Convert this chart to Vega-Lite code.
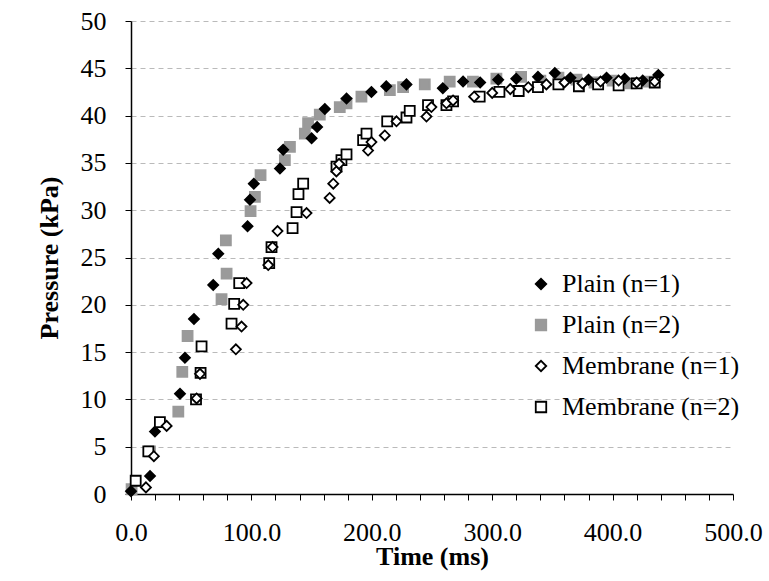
{
  "$schema": "https://vega.github.io/schema/vega-lite/v6.json",
  "width": 602,
  "height": 473,
  "autosize": {"type": "none"},
  "padding": {"left": 131, "top": 21, "right": 36, "bottom": 87},
  "background": "white",
  "config": {
    "view": {"stroke": null},
    "font": "Liberation Serif"
  },
  "data": {
    "values": [
      {"s": "Plain (n=1)", "t": 0, "p": 0.3},
      {"s": "Plain (n=1)", "t": 15.8, "p": 1.9},
      {"s": "Plain (n=1)", "t": 19.9, "p": 6.6},
      {"s": "Plain (n=1)", "t": 40.7, "p": 10.6},
      {"s": "Plain (n=1)", "t": 44.8, "p": 14.4},
      {"s": "Plain (n=1)", "t": 52.3, "p": 18.5},
      {"s": "Plain (n=1)", "t": 68.3, "p": 22.1},
      {"s": "Plain (n=1)", "t": 72.5, "p": 25.4},
      {"s": "Plain (n=1)", "t": 96.8, "p": 28.3},
      {"s": "Plain (n=1)", "t": 98.8, "p": 31.1},
      {"s": "Plain (n=1)", "t": 102, "p": 32.8},
      {"s": "Plain (n=1)", "t": 123.7, "p": 34.4},
      {"s": "Plain (n=1)", "t": 126.4, "p": 36.4},
      {"s": "Plain (n=1)", "t": 150, "p": 37.6},
      {"s": "Plain (n=1)", "t": 154.6, "p": 38.8},
      {"s": "Plain (n=1)", "t": 161, "p": 40.7},
      {"s": "Plain (n=1)", "t": 179, "p": 41.8},
      {"s": "Plain (n=1)", "t": 199.7, "p": 42.5},
      {"s": "Plain (n=1)", "t": 212, "p": 43.1},
      {"s": "Plain (n=1)", "t": 228.8, "p": 43.3},
      {"s": "Plain (n=1)", "t": 259, "p": 42.9},
      {"s": "Plain (n=1)", "t": 275.8, "p": 43.6},
      {"s": "Plain (n=1)", "t": 290, "p": 43.5},
      {"s": "Plain (n=1)", "t": 305, "p": 43.8},
      {"s": "Plain (n=1)", "t": 320, "p": 43.9},
      {"s": "Plain (n=1)", "t": 338, "p": 44.1},
      {"s": "Plain (n=1)", "t": 352, "p": 44.5},
      {"s": "Plain (n=1)", "t": 365, "p": 44.0},
      {"s": "Plain (n=1)", "t": 380, "p": 43.8},
      {"s": "Plain (n=1)", "t": 395, "p": 44.0},
      {"s": "Plain (n=1)", "t": 410, "p": 43.9},
      {"s": "Plain (n=1)", "t": 425, "p": 43.7},
      {"s": "Plain (n=1)", "t": 438, "p": 44.3},
      {"s": "Plain (n=2)", "t": 0.5, "p": 0.5},
      {"s": "Plain (n=2)", "t": 15.8, "p": 4.5},
      {"s": "Plain (n=2)", "t": 39.3, "p": 8.7},
      {"s": "Plain (n=2)", "t": 42.6, "p": 12.9},
      {"s": "Plain (n=2)", "t": 47, "p": 16.7},
      {"s": "Plain (n=2)", "t": 75.2, "p": 20.6},
      {"s": "Plain (n=2)", "t": 79.4, "p": 23.3},
      {"s": "Plain (n=2)", "t": 78.8, "p": 26.8},
      {"s": "Plain (n=2)", "t": 99.3, "p": 29.9},
      {"s": "Plain (n=2)", "t": 102.9, "p": 31.4},
      {"s": "Plain (n=2)", "t": 107.6, "p": 33.7},
      {"s": "Plain (n=2)", "t": 127.8, "p": 35.3},
      {"s": "Plain (n=2)", "t": 132, "p": 36.7},
      {"s": "Plain (n=2)", "t": 144.4, "p": 38.1},
      {"s": "Plain (n=2)", "t": 147.1, "p": 39.2},
      {"s": "Plain (n=2)", "t": 156.8, "p": 40.1},
      {"s": "Plain (n=2)", "t": 173.4, "p": 40.9},
      {"s": "Plain (n=2)", "t": 179, "p": 41.3},
      {"s": "Plain (n=2)", "t": 191.4, "p": 42.0},
      {"s": "Plain (n=2)", "t": 215, "p": 42.7},
      {"s": "Plain (n=2)", "t": 226, "p": 43.0},
      {"s": "Plain (n=2)", "t": 244, "p": 43.3},
      {"s": "Plain (n=2)", "t": 264.7, "p": 43.6},
      {"s": "Plain (n=2)", "t": 284, "p": 43.6},
      {"s": "Plain (n=2)", "t": 303.5, "p": 43.9},
      {"s": "Plain (n=2)", "t": 324, "p": 44.1},
      {"s": "Plain (n=2)", "t": 340, "p": 43.7},
      {"s": "Plain (n=2)", "t": 355, "p": 44.0},
      {"s": "Plain (n=2)", "t": 370, "p": 43.8},
      {"s": "Plain (n=2)", "t": 385, "p": 43.5},
      {"s": "Plain (n=2)", "t": 400, "p": 43.7},
      {"s": "Plain (n=2)", "t": 415, "p": 43.4},
      {"s": "Plain (n=2)", "t": 430, "p": 43.6},
      {"s": "Membrane (n=1)", "t": 12.4, "p": 0.7},
      {"s": "Membrane (n=1)", "t": 19, "p": 4.0},
      {"s": "Membrane (n=1)", "t": 29.6, "p": 7.2},
      {"s": "Membrane (n=1)", "t": 54.5, "p": 10.1},
      {"s": "Membrane (n=1)", "t": 57.3, "p": 12.7},
      {"s": "Membrane (n=1)", "t": 87.1, "p": 15.3},
      {"s": "Membrane (n=1)", "t": 91.8, "p": 17.7},
      {"s": "Membrane (n=1)", "t": 93.2, "p": 20.0},
      {"s": "Membrane (n=1)", "t": 96, "p": 22.3},
      {"s": "Membrane (n=1)", "t": 114, "p": 24.2},
      {"s": "Membrane (n=1)", "t": 117.6, "p": 26.1},
      {"s": "Membrane (n=1)", "t": 121.7, "p": 27.8},
      {"s": "Membrane (n=1)", "t": 145.8, "p": 29.7},
      {"s": "Membrane (n=1)", "t": 165, "p": 31.3},
      {"s": "Membrane (n=1)", "t": 168, "p": 32.8},
      {"s": "Membrane (n=1)", "t": 170.6, "p": 34.1},
      {"s": "Membrane (n=1)", "t": 172.8, "p": 34.9},
      {"s": "Membrane (n=1)", "t": 196.9, "p": 36.3},
      {"s": "Membrane (n=1)", "t": 199.7, "p": 37.2},
      {"s": "Membrane (n=1)", "t": 210.8, "p": 37.9},
      {"s": "Membrane (n=1)", "t": 220.5, "p": 39.4},
      {"s": "Membrane (n=1)", "t": 245.4, "p": 39.9},
      {"s": "Membrane (n=1)", "t": 249.5, "p": 40.9},
      {"s": "Membrane (n=1)", "t": 262, "p": 41.3},
      {"s": "Membrane (n=1)", "t": 267.5, "p": 41.6},
      {"s": "Membrane (n=1)", "t": 285, "p": 42.0},
      {"s": "Membrane (n=1)", "t": 300, "p": 42.4},
      {"s": "Membrane (n=1)", "t": 315, "p": 42.8},
      {"s": "Membrane (n=1)", "t": 330, "p": 43.0},
      {"s": "Membrane (n=1)", "t": 345, "p": 43.3},
      {"s": "Membrane (n=1)", "t": 360, "p": 43.5},
      {"s": "Membrane (n=1)", "t": 375, "p": 43.4},
      {"s": "Membrane (n=1)", "t": 390, "p": 43.6},
      {"s": "Membrane (n=1)", "t": 405, "p": 43.7},
      {"s": "Membrane (n=1)", "t": 420, "p": 43.5},
      {"s": "Membrane (n=1)", "t": 435, "p": 43.6},
      {"s": "Membrane (n=2)", "t": 3.9, "p": 1.4},
      {"s": "Membrane (n=2)", "t": 14.4, "p": 4.5},
      {"s": "Membrane (n=2)", "t": 24, "p": 7.6},
      {"s": "Membrane (n=2)", "t": 54, "p": 10.0},
      {"s": "Membrane (n=2)", "t": 57.8, "p": 12.8},
      {"s": "Membrane (n=2)", "t": 58.6, "p": 15.6},
      {"s": "Membrane (n=2)", "t": 83.5, "p": 18.0},
      {"s": "Membrane (n=2)", "t": 85.7, "p": 20.1},
      {"s": "Membrane (n=2)", "t": 89.9, "p": 22.3},
      {"s": "Membrane (n=2)", "t": 114.8, "p": 24.4},
      {"s": "Membrane (n=2)", "t": 116.7, "p": 26.1},
      {"s": "Membrane (n=2)", "t": 134.2, "p": 28.1},
      {"s": "Membrane (n=2)", "t": 137.5, "p": 29.8},
      {"s": "Membrane (n=2)", "t": 139.1, "p": 31.7},
      {"s": "Membrane (n=2)", "t": 143, "p": 32.8},
      {"s": "Membrane (n=2)", "t": 170.7, "p": 34.6},
      {"s": "Membrane (n=2)", "t": 174.8, "p": 35.3},
      {"s": "Membrane (n=2)", "t": 179, "p": 35.9},
      {"s": "Membrane (n=2)", "t": 192.8, "p": 37.4},
      {"s": "Membrane (n=2)", "t": 195.6, "p": 38.1},
      {"s": "Membrane (n=2)", "t": 212.8, "p": 39.4},
      {"s": "Membrane (n=2)", "t": 228.8, "p": 39.8},
      {"s": "Membrane (n=2)", "t": 231.5, "p": 40.5},
      {"s": "Membrane (n=2)", "t": 246.7, "p": 41.1},
      {"s": "Membrane (n=2)", "t": 262, "p": 41.1},
      {"s": "Membrane (n=2)", "t": 267.5, "p": 41.5},
      {"s": "Membrane (n=2)", "t": 289.6, "p": 42.0},
      {"s": "Membrane (n=2)", "t": 306, "p": 42.5},
      {"s": "Membrane (n=2)", "t": 322, "p": 42.6},
      {"s": "Membrane (n=2)", "t": 338, "p": 43.0},
      {"s": "Membrane (n=2)", "t": 355, "p": 43.3},
      {"s": "Membrane (n=2)", "t": 372, "p": 43.1},
      {"s": "Membrane (n=2)", "t": 388, "p": 43.3},
      {"s": "Membrane (n=2)", "t": 405, "p": 43.2},
      {"s": "Membrane (n=2)", "t": 420, "p": 43.4},
      {"s": "Membrane (n=2)", "t": 435, "p": 43.5}
    ]
  },
  "mark": {"type": "point", "filled": true, "opacity": 1, "strokeWidth": 1.8, "size": 100},
  "encoding": {
    "x": {
      "field": "t", "type": "quantitative",
      "scale": {"domain": [0, 500], "nice": false, "zero": false},
      "axis": {
        "title": "Time (ms)",
        "values": [0,20,40,60,80,100,120,140,160,180,200,220,240,260,280,300,320,340,360,380,400,420,440,460,480,500],
        "labelExpr": "datum.value % 100 === 0 ? format(datum.value, '.1f') : ''",
        "grid": false,
        "domainColor": "black", "domainWidth": 1.5,
        "tickColor": "black", "tickSize": 6, "tickWidth": 1,
        "labelFont": "Liberation Serif", "labelFontSize": 26, "labelColor": "black",
        "labelPadding": 19, "labelFlush": false,
        "titleFont": "Liberation Serif", "titleFontSize": 26, "titleFontWeight": "bold",
        "titleColor": "black", "titlePadding": -2
      }
    },
    "y": {
      "field": "p", "type": "quantitative",
      "scale": {"domain": [0, 50], "nice": false},
      "axis": {
        "title": "Pressure  (kPa)",
        "values": [0,5,10,15,20,25,30,35,40,45,50],
        "grid": true, "gridColor": "#a8a8a8", "gridDash": [5, 4], "gridWidth": 0.8,
        "domainColor": "black", "domainWidth": 1.5,
        "tickColor": "black", "tickSize": 6, "tickWidth": 1,
        "labelFont": "Liberation Serif", "labelFontSize": 26, "labelColor": "black",
        "labelPadding": 19,
        "titleFont": "Liberation Serif", "titleFontSize": 26, "titleFontWeight": "bold",
        "titleColor": "black", "titlePadding": 18
      }
    },
    "shape": {
      "field": "s", "type": "nominal",
      "scale": {"domain": ["Plain (n=1)", "Plain (n=2)", "Membrane (n=1)", "Membrane (n=2)"], "range": ["diamond", "square", "diamond", "square"]},
      "legend": {
        "title": null, "orient": "none", "legendX": 397, "legendY": 250,
        "labelFont": "Liberation Serif", "labelFontSize": 26, "labelColor": "black", "labelLimit": 400,
        "symbolSize": 110, "symbolStrokeWidth": 1.8, "rowPadding": 15, "labelOffset": 8
      }
    },
    "fill": {
      "field": "s", "type": "nominal",
      "scale": {"domain": ["Plain (n=1)", "Plain (n=2)", "Membrane (n=1)", "Membrane (n=2)"], "range": ["black", "#9a9a9a", "white", "white"]},
      "legend": {
        "title": null, "orient": "none", "legendX": 397, "legendY": 250,
        "labelFont": "Liberation Serif", "labelFontSize": 26, "labelColor": "black", "labelLimit": 400,
        "symbolSize": 110, "symbolStrokeWidth": 1.8, "rowPadding": 15, "labelOffset": 8
      }
    },
    "stroke": {
      "field": "s", "type": "nominal",
      "scale": {"domain": ["Plain (n=1)", "Plain (n=2)", "Membrane (n=1)", "Membrane (n=2)"], "range": ["black", "#9a9a9a", "black", "black"]},
      "legend": {
        "title": null, "orient": "none", "legendX": 397, "legendY": 250,
        "labelFont": "Liberation Serif", "labelFontSize": 26, "labelColor": "black", "labelLimit": 400,
        "symbolSize": 110, "symbolStrokeWidth": 1.8, "rowPadding": 15, "labelOffset": 8
      }
    },
    "order": {"field": "s", "sort": "descending"}
  }
}
